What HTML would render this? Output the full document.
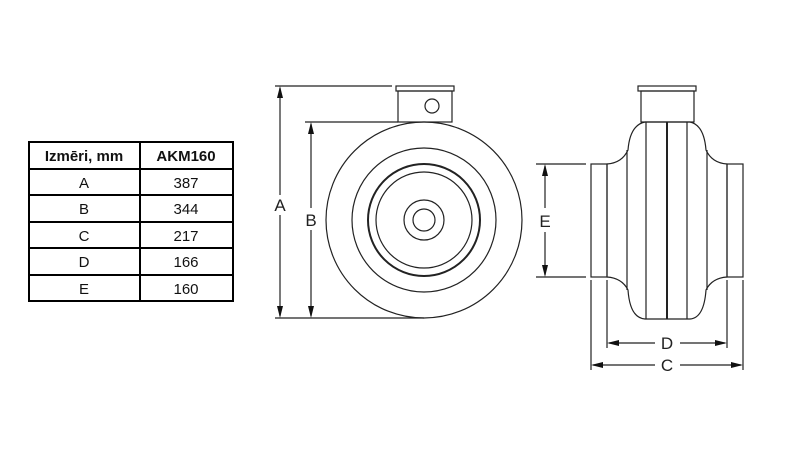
<!DOCTYPE html><html><head><style>body{margin:0;background:#fff}svg{display:block}</style></head><body>
<svg width="800" height="450" viewBox="0 0 800 450" xmlns="http://www.w3.org/2000/svg" font-family="Liberation Sans, sans-serif">
<rect width="800" height="450" fill="#fff"/>
<g stroke="#000" stroke-width="2" fill="none">
<rect x="29" y="142" width="204" height="159"/>
<line x1="140" y1="142" x2="140" y2="301"/>
<line x1="29" y1="169" x2="233" y2="169"/><line x1="29" y1="195" x2="233" y2="195"/>
<line x1="29" y1="222" x2="233" y2="222"/><line x1="29" y1="248" x2="233" y2="248"/>
<line x1="29" y1="275" x2="233" y2="275"/>
</g>
<g font-size="15" text-anchor="middle" fill="#111">
<text x="84" y="161" font-weight="bold">Izmēri, mm</text><text x="186" y="161" font-weight="bold">AKM160</text>
<text x="84" y="188">A</text><text x="186" y="188">387</text>
<text x="84" y="214">B</text><text x="186" y="214">344</text>
<text x="84" y="241">C</text><text x="186" y="241">217</text>
<text x="84" y="267">D</text><text x="186" y="267">166</text>
<text x="84" y="294">E</text><text x="186" y="294">160</text>
</g>
<g stroke="#222" stroke-width="1.2" fill="none">
<circle cx="424" cy="220" r="98"/><circle cx="424" cy="220" r="72"/>
<circle cx="424" cy="220" r="56" stroke-width="2"/><circle cx="424" cy="220" r="48"/>
<circle cx="424" cy="220" r="20"/><circle cx="424" cy="220" r="11"/>
<rect x="398" y="91" width="54" height="31"/><rect x="396" y="86" width="58" height="5"/>
<circle cx="432" cy="106" r="7"/>
<line x1="275" y1="86" x2="392" y2="86"/><line x1="275" y1="318" x2="424" y2="318"/>
<line x1="305" y1="122" x2="398" y2="122"/>
<line x1="280" y1="88" x2="280" y2="195"/><line x1="280" y1="215" x2="280" y2="316"/>
<line x1="311" y1="124" x2="311" y2="208"/><line x1="311" y1="230" x2="311" y2="316"/>
<!-- side view -->
<rect x="638" y="86" width="58" height="5"/><rect x="641" y="91" width="53" height="31"/>
<path d="M645,122 Q630,125 628,150 Q622,163 607,164 L607,277 Q622,278 628,290 Q630,318 645,319 L690,319 Q704,318 706,290 Q712,278 727,277 L727,164 Q712,163 706,150 Q704,125 690,122 Z"/>
<line x1="627" y1="150" x2="627" y2="290"/><line x1="707" y1="150" x2="707" y2="290"/>
<line x1="646" y1="122" x2="646" y2="319"/><line x1="667" y1="122" x2="667" y2="319" stroke-width="2"/><line x1="687" y1="122" x2="687" y2="319"/>
<rect x="591" y="164" width="16" height="113"/><rect x="727" y="164" width="16" height="113"/>
<line x1="536" y1="164" x2="586" y2="164"/><line x1="536" y1="277" x2="586" y2="277"/>
<line x1="545" y1="166" x2="545" y2="208"/><line x1="545" y1="232" x2="545" y2="275"/>
<line x1="591" y1="280" x2="591" y2="370"/><line x1="743" y1="280" x2="743" y2="370"/>
<line x1="607" y1="280" x2="607" y2="348"/><line x1="727" y1="280" x2="727" y2="348"/>
<line x1="609" y1="343" x2="655" y2="343"/><line x1="680" y1="343" x2="725" y2="343"/>
<line x1="593" y1="365" x2="655" y2="365"/><line x1="680" y1="365" x2="741" y2="365"/>
</g>
<g fill="#111">
<path d="M280,86 l-3,12 h6z M280,318 l-3,-12 h6z M311,122 l-3,12 h6z M311,318 l-3,-12 h6z"/>
<path d="M545,164 l-3,12 h6z M545,277 l-3,-12 h6z"/>
<path d="M607,343 l12,-3 v6z M727,343 l-12,-3 v6z M591,365 l12,-3 v6z M743,365 l-12,-3 v6z"/>
</g>
<g font-size="17" text-anchor="middle" fill="#222">
<text x="280" y="211">A</text><text x="311" y="226">B</text><text x="545" y="227">E</text>
<text x="667" y="349">D</text><text x="667" y="371">C</text>
</g>
</svg></body></html>
